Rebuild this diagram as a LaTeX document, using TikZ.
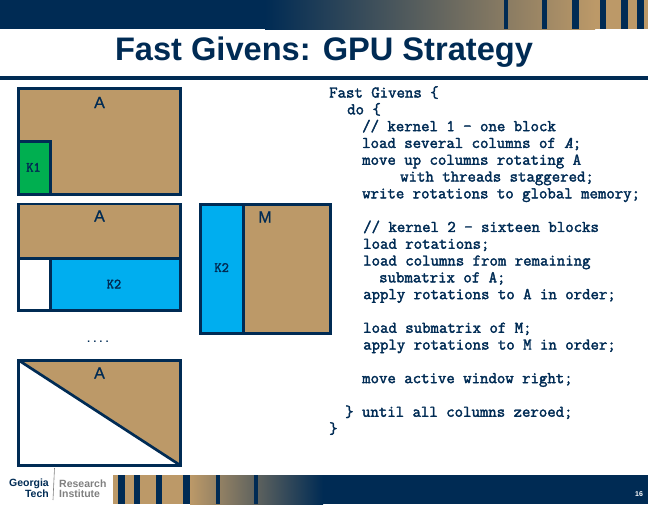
\documentclass[tikz,border=0pt]{standalone}
\usepackage{fontspec}
\setmainfont{Liberation Sans}
\newfontfamily\codefont{Latin Modern Mono}[FakeBold=2.2]
\newfontfamily\matfont{Liberation Sans}[FakeBold=0.7]
\newfontfamily\dotfont{Liberation Mono}
\definecolor{navy}{HTML}{002B54}
\definecolor{tan}{HTML}{BC9968}
\definecolor{kblue}{HTML}{00AEEF}
\definecolor{kgreen}{HTML}{00AF50}
\tikzset{panel/.style={draw=navy,line width=2.7pt,fill=tan,outer sep=0pt,inner sep=0pt},
  kone/.style={panel,fill=kgreen},
  ktwo/.style={panel,fill=kblue},
  hole/.style={panel,fill=white},
  band/.style={fill=navy},
  bar/.style={fill=navy},
  matlabel/.style={font=\matfont\fontsize{16}{18}\selectfont,text=navy,inner sep=0pt},
  klabel/.style={font=\codefont\fontsize{14}{14}\selectfont,text=navy,inner sep=0pt},
  codeblock/.style={font=\codefont\fontsize{16.35}{16.8}\selectfont,text=navy,
    align=left,inner sep=0pt,anchor=north west}}
\begin{document}
\begin{tikzpicture}[x=1pt,y=-1pt]
\useasboundingbox (0,0) rectangle (648,504);
% header and footer
\fill[band] (0,0) rectangle (265,29);
\shade[left color=navy,right color=tan] (265,0) rectangle (595,29);
\fill[tan] (595,0) rectangle (648,29);
\foreach \xbar/\wbar in {504/4,542/5,572/7,600/6,621/7,637/7}
  \fill[bar] (\xbar,0) rectangle ++(\wbar,29);
\fill[band] (0,76) rectangle (648,80);
\fill[tan] (113,475) rectangle (190,504);
\shade[left color=tan,right color=navy] (190,475) rectangle (323,504);
\fill[band] (323,475) rectangle (648,504);
\foreach \xbar/\wbar in {118/7,134/6,156/6,183/7,216/4,254/4}
  \fill[bar] (\xbar,475) rectangle ++(\wbar,29);
\node[inner sep=0pt,text=navy,font=\bfseries\fontsize{32.6}{36}\selectfont] (title) at (324,52) {Fast Givens: GPU Strategy};
\node[inner sep=0pt,text=navy,align=right,anchor=east,font=\bfseries\fontsize{10.5}{9.5}\selectfont] (georgia) at (49,488.5) {Georgia\\Tech};
\draw[gray,line width=0.6pt] (54.5,468) -- (53,500);
\node[inner sep=0pt,text=gray,align=left,anchor=west,font=\bfseries\fontsize{10.5}{9.5}\selectfont] (rinst) at (59,488.5) {Research\\Institute};
\node[inner sep=0pt,text=white,font=\bfseries\fontsize{7}{8}\selectfont] (pagenum) at (639,494.5) {16};
% first matrix
\node[panel,minimum width=161.6pt,minimum height=105.9pt,anchor=north west] (aone) at (18.7,88.5) {};
\node[kone,minimum width=32pt,minimum height=52.7pt,anchor=south west] (kone) at (aone.south west) {};
\node[matlabel] (aonetxt) at (99.5,102.5) {A};
\node[klabel] (konetxt) at (33.5,167.3) {K1};
% second matrix
\node[panel,minimum width=161.6pt,minimum height=54.4pt,anchor=north west] (atwo) at (18.7,203.9) {};
\node[hole,minimum width=32pt,minimum height=52.4pt,anchor=north west] (holetwo) at (atwo.south west) {};
\node[ktwo,minimum width=129.6pt,minimum height=52.4pt,anchor=north east] (ktwoa) at (atwo.south east) {};
\node[matlabel] (atwotxt) at (99.5,216) {A};
\node[klabel] (ktwoatxt) at (114,284) {K2};
% M
\node[panel,minimum width=130pt,minimum height=129pt,anchor=north west] (mat) at (200.7,204.3) {};
\node[ktwo,minimum width=43pt,minimum height=129pt,anchor=north west] (ktwom) at (mat.north west) {};
\node[matlabel] (mattxt) at (265,217) {M};
\node[klabel] (ktwomtxt) at (221.7,267.5) {K2};
\node[inner sep=0pt,text=navy,anchor=base,font=\dotfont\bfseries\fontsize{10.3}{14}\selectfont] (dots) at (98,342) {....};
% last matrix
\node[hole,minimum width=161.6pt,minimum height=105pt,anchor=north west] (athree) at (18.7,360.3) {};
\fill[tan] (athree.north west) -- (athree.north east) -- (athree.south east) -- cycle;
\draw[navy,line width=2.7pt] (athree.north west) rectangle (athree.south east);
\draw[navy,line width=2.7pt] (athree.north west) -- (athree.south east);
\node[matlabel] (athreetxt) at (99.5,373) {A};
% code
\node[codeblock] (code) at (329,86) {Fast Givens \{\\
\hspace*{18pt}do \{\\
\hspace*{33pt}// kernel 1 \textendash{} one block\\
\hspace*{33pt}load several columns of \textit{A};\\
\hspace*{33pt}move up columns rotating A\\
\hspace*{71pt}with threads staggered;\\
\hspace*{33pt}write rotations to global memory;\\[16.8pt]
\hspace*{34pt}// kernel 2 \textendash{} sixteen blocks\\
\hspace*{34pt}load rotations;\\
\hspace*{34pt}load columns from remaining\\
\hspace*{50pt}submatrix of A;\\
\hspace*{34pt}apply rotations to A in order;\\[16.8pt]
\hspace*{34pt}load submatrix of M;\\
\hspace*{34pt}apply rotations to M in order;\\[16.8pt]
\hspace*{33pt}move active window right;\\[16.8pt]
\hspace*{16pt}\} until all columns zeroed;\\
\}};
\end{tikzpicture}
\end{document}
